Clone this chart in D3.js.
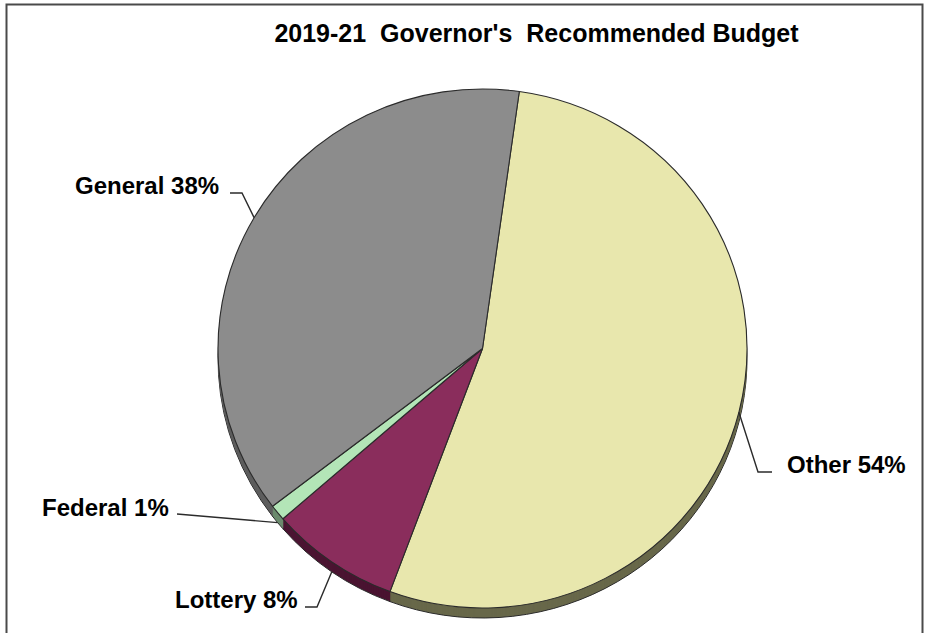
<!DOCTYPE html>
<html>
<head>
<meta charset="utf-8">
<script src="https://cdn.jsdelivr.net/npm/d3@7"></script>
<style>
  html, body { margin: 0; padding: 0; background: #fff; }
  svg { display: block; }
  text { font-family: "Liberation Sans", Arial, sans-serif; font-weight: bold; fill: #000; white-space: pre; }
</style>
</head>
<body>
<svg id="chart" width="927" height="633"></svg>
<script>
// Budget shares by fund type (percent)
const categories = ["Other", "Lottery", "Federal", "General"];
const shares = [54, 8, 1, 38];
const titleText = "2019-21  Governor's  Recommended Budget";

// Slice colours: top face and darker side wall
const topColors  = ["#e8e7ad", "#8a2d5c", "#b3e5b7", "#8c8c8c"];
const sideColors = ["#68684a", "#4a1431", "#6b8a6d", "#5e5e5e"];

(function () {
  const cx = 482.5, cy = 348.5, rx = 264.5, ry = 259.5, depth = 10;
  const startDeg = 8;

  const svg = d3.select("#chart");

  // Frame
  svg.append("rect")
    .attr("x", 6.5).attr("y", 4.5)
    .attr("width", 916).attr("height", 660)
    .attr("fill", "#fff")
    .attr("stroke", "#4a4a4a").attr("stroke-width", 2);

  // Title
  svg.append("text")
    .attr("x", 536.5).attr("y", 42)
    .attr("text-anchor", "middle")
    .attr("font-size", 25)
    .text(titleText);

  const data = categories.map((c, i) => ({ name: c, value: shares[i], i }));
  const a0 = startDeg * Math.PI / 180;
  const pie = d3.pie().sort(null).value(d => d.value).startAngle(a0).endAngle(a0 + 2 * Math.PI);
  const arcs = pie(data);
  const arc = d3.arc().innerRadius(0).outerRadius(rx);

  // Extruded side wall: stacked copies shifted downward
  for (let k = depth; k >= 1; k--) {
    const g = svg.append("g").attr("transform", `translate(${cx},${cy + k}) scale(1,${ry / rx})`);
    g.selectAll("path").data(arcs).join("path")
      .attr("d", arc)
      .attr("fill", d => sideColors[d.data.i])
      .attr("stroke", k === depth ? "#2a2a2a" : "none")
      .attr("stroke-width", 1)
      .attr("vector-effect", "non-scaling-stroke");
  }

  // Top face
  const face = svg.append("g").attr("transform", `translate(${cx},${cy}) scale(1,${ry / rx})`);
  face.selectAll("path").data(arcs).join("path")
    .attr("d", arc)
    .attr("fill", d => topColors[d.data.i])
    .attr("stroke", "#2b2b2b")
    .attr("stroke-width", 1.1)
    .attr("stroke-linejoin", "round")
    .attr("vector-effect", "non-scaling-stroke");

  // Labels with leader lines
  const labelLayout = {
    Other:   { x: 787, y: 473, line: [[772, 472], [758, 472]] },
    General: { x: 75,  y: 194, line: [[230, 193], [242, 193]] },
    Federal: { x: 42,  y: 516, line: [[177, 514]] },
    Lottery: { x: 175, y: 608, line: [[305, 607], [317, 607]] }
  };

  arcs.forEach(d => {
    const L = labelLayout[d.data.name];
    const mid = (d.startAngle + d.endAngle) / 2;
    const sx = Math.sin(mid), sy = -Math.cos(mid);
    let ax = cx + rx * sx, ay = cy + ry * sy;
    if (sy > 0.3) ay += depth;
    const pts = L.line.concat([[ax, ay]]);
    svg.append("path")
      .attr("d", d3.line()(pts))
      .attr("fill", "none")
      .attr("stroke", "#2b2b2b")
      .attr("stroke-width", 1.4);
    svg.append("text")
      .attr("x", L.x).attr("y", L.y)
      .attr("font-size", 24)
      .text(`${d.data.name} ${d.data.value}%`);
  });
})();
</script>
</body>
</html>
